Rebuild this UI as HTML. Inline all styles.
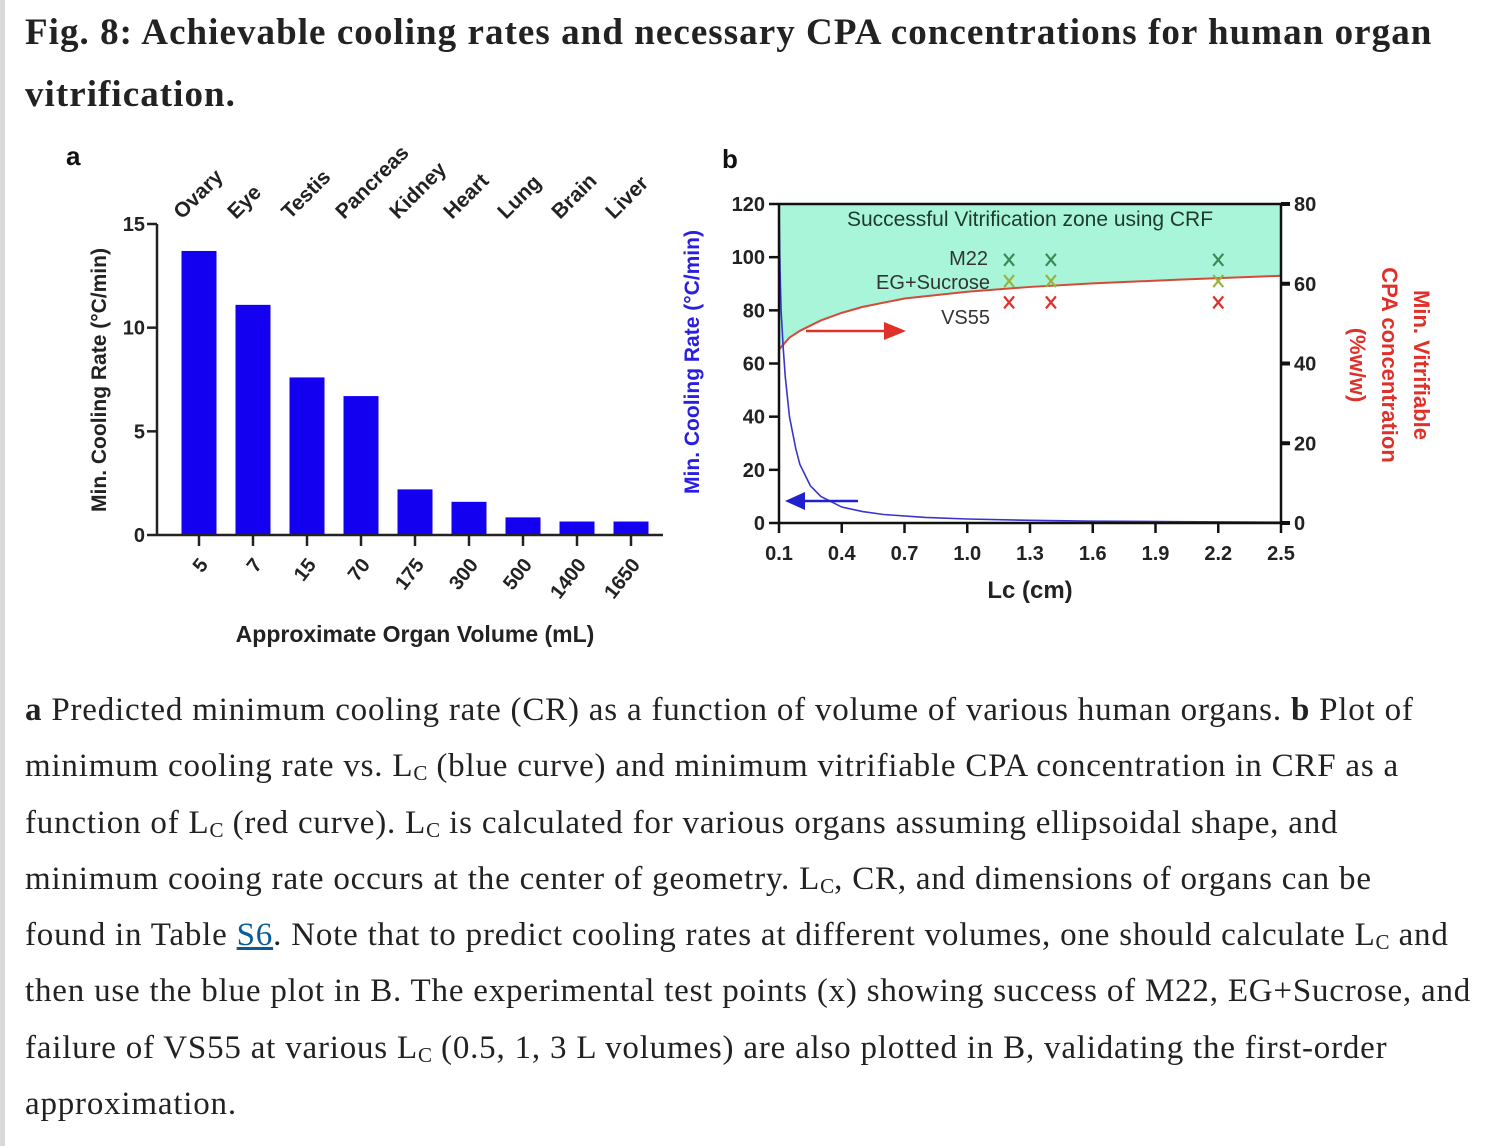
<!DOCTYPE html>
<html><head><meta charset="utf-8">
<style>
html,body{margin:0;padding:0;background:#fff;}
body{width:1494px;height:1146px;position:relative;overflow:hidden;font-family:"Liberation Serif",serif;color:#222;}
#bar{position:absolute;left:0;top:0;width:5px;height:1146px;background:#d9d9d9;}
#title{position:absolute;left:25px;top:2px;font-size:37px;font-weight:bold;line-height:62px;letter-spacing:1.05px;white-space:nowrap;}
#cap{position:absolute;left:25px;top:682px;font-size:33px;line-height:56.3px;white-space:nowrap;letter-spacing:0.8px;}
#cap sub{font-size:21px;vertical-align:-4px;line-height:0;letter-spacing:0;}
#cap a{color:#0b5a99;}
svg{position:absolute;left:0;top:0;}
svg text{font-family:"Liberation Sans",sans-serif;font-weight:bold;}
</style></head><body>
<div id="bar"></div>
<div id="title">Fig. 8: Achievable cooling rates and necessary CPA concentrations for human organ<br>vitrification.</div>
<svg id="chart" width="1494" height="680"></svg>
<div id="cap"><b>a</b> Predicted minimum cooling rate (CR) as a function of volume of various human organs. <b>b</b> Plot of<br>minimum cooling rate vs. L<sub>C</sub> (blue curve) and minimum vitrifiable CPA concentration in CRF as a<br>function of L<sub>C</sub> (red curve). L<sub>C</sub> is calculated for various organs assuming ellipsoidal shape, and<br>minimum cooing rate occurs at the center of geometry. L<sub>C</sub>, CR, and dimensions of organs can be<br>found in Table <a href="#">S6</a>. Note that to predict cooling rates at different volumes, one should calculate L<sub>C</sub> and<br>then use the blue plot in B. The experimental test points (x) showing success of M22, EG+Sucrose, and<br>failure of VS55 at various L<sub>C</sub> (0.5, 1, 3 L volumes) are also plotted in B, validating the first-order<br>approximation.</div>
<script>
const organs=["Ovary","Eye","Testis","Pancreas","Kidney","Heart","Lung","Brain","Liver"];
const volumes=["5","7","15","70","175","300","500","1400","1650"];
const rates=[13.7,11.1,7.6,6.7,2.2,1.6,0.85,0.65,0.65];
const aTicks=[0,5,10,15];
const lcTicks=[0.1,0.4,0.7,1.0,1.3,1.6,1.9,2.2,2.5];
const crTicks=[0,20,40,60,80,100,120];
const cpaTicks=[0,20,40,60,80];
const blueLc=[0.1,0.105,0.11,0.12,0.13,0.15,0.18,0.2,0.25,0.3,0.4,0.5,0.6,0.8,1.0,1.3,1.6,2.0,2.5];
const blueCR=[120,95,80,66,55,40,28,22,14,10,6,4.3,3.2,2.1,1.5,1.0,0.7,0.5,0.3];
const redLc=[0.1,0.15,0.2,0.3,0.4,0.5,0.7,1.0,1.3,1.6,2.0,2.5];
const redCPA=[43.5,46.5,48.2,50.8,52.7,54.2,56.3,58.0,59.2,60.1,61.0,62.0];
const crossLc=[1.2,1.4,2.2];
const m22CR=[99,99,99];
const egCR=[91,91,91];
const vsCR=[83,83,83];
const NS="http://www.w3.org/2000/svg";
const svg=document.getElementById('chart');
function el(t,a,txt){const e=document.createElementNS(NS,t);for(const k in a)e.setAttribute(k,a[k]);if(txt!==undefined)e.textContent=txt;svg.appendChild(e);return e;}
// panel a
const ax0=157,ax1=663,ay0=535,ay1=224;
const ya=v=>ay0-(v/15)*(ay0-ay1);
const bw=(ax1-ax0-20)/organs.length;
const xa=i=>ax0+20+bw*(i+0.5)-5;
let t=el('text',{x:66,y:165,'font-size':26,fill:'#111'},'a');

rates.forEach((v,i)=>{const r=el('rect',{x:xa(i)-17.5,y:ya(v),width:35,height:ay0-ya(v),fill:'#1400f0'});

const tk=el('line',{x1:xa(i),x2:xa(i),y1:ay0,y2:ay0+11,stroke:'#222','stroke-width':2.5});

const vl=el('text',{x:0,y:0,'font-size':20,fill:'#222','text-anchor':'end',transform:`translate(${xa(i)+10},${ay0+30}) rotate(-52)`},volumes[i]);

const ol=el('text',{x:0,y:0,'font-size':21,fill:'#222',transform:`translate(${xa(i)-17},${ay1-4}) rotate(-45)`},organs[i]);

});
let l=el('line',{x1:ax0,x2:ax0,y1:ay1,y2:ay0,stroke:'#222','stroke-width':2.5});
l=el('line',{x1:ax0,x2:ax1,y1:ay0,y2:ay0,stroke:'#222','stroke-width':2.5});
aTicks.forEach(v=>{const k=el('line',{x1:ax0-10,x2:ax0,y1:ya(v),y2:ya(v),stroke:'#222','stroke-width':2.5});
const tl=el('text',{x:ax0-12,y:ya(v)+7,'font-size':20,fill:'#222','text-anchor':'end'},v);});
t=el('text',{x:0,y:0,'font-size':21,fill:'#222','text-anchor':'middle',transform:'translate(106,380) rotate(-90)'},'Min. Cooling Rate (°C/min)');
t=el('text',{x:415,y:642,'font-size':23,fill:'#222','text-anchor':'middle'},'Approximate Organ Volume (mL)');
// panel b
const bx0=779,bx1=1281,by0=523,by1=204;
const xb=v=>bx0+(v-0.1)/2.4*(bx1-bx0);
const yl=v=>by0-v/120*(by0-by1);
const yr=v=>by0-v/80*(by0-by1);
t=el('text',{x:722,y:168,'font-size':26,fill:'#111'},'b');
let zone='M'+xb(redLc[0])+','+by1;
redLc.forEach((v,i)=>zone+=' L'+xb(v)+','+yr(redCPA[i]));zone+=' L'+bx1+','+by1+' Z';
let p=el('path',{d:zone,fill:'#a8f5da'});
t=el('text',{x:1030,y:226,'font-size':21,fill:'#1d3a2a','text-anchor':'middle',style:'font-weight:normal'},'Successful Vitrification zone using CRF');
let d='';redLc.forEach((v,i)=>d+=(i?' L':'M')+xb(v)+','+yr(redCPA[i]));
p=el('path',{d,fill:'none',stroke:'#d44a3a','stroke-width':2});
d='';blueLc.forEach((v,i)=>d+=(i?' L':'M')+xb(v)+','+yl(blueCR[i]));
p=el('path',{d,fill:'none',stroke:'#3b33cc','stroke-width':1.6});
function cross(x,y,c,n){const g=el('path',{d:`M${x-5},${y-6} L${x+5},${y+6} M${x+5},${y-6} L${x-5},${y+6}`,stroke:c,'stroke-width':2.2,fill:'none'});}
crossLc.forEach((v,i)=>{cross(xb(v),yl(m22CR[i]),'#3a8a55','m22-point');cross(xb(v),yl(egCR[i]),'#9ab040','eg-sucrose-point');cross(xb(v),yl(vsCR[i]),'#e0302a','vs55-point');});
[['M22',988,265],['EG+Sucrose',990,289],['VS55',990,324]].forEach(a=>{const q=el('text',{x:a[1],y:a[2],'font-size':20,fill:'#333','text-anchor':'end',style:'font-weight:normal'},a[0]);});
p=el('path',{d:'M806,331 L888,331',stroke:'#e0302a','stroke-width':2.5});
p=el('path',{d:'M884,322 L906,331 L884,340 Z',fill:'#e0302a'});
p=el('path',{d:'M800,501 L858,501',stroke:'#2020d0','stroke-width':2.5});
p=el('path',{d:'M805,492 L785,501 L805,510 Z',fill:'#2020d0'});
[[bx0,by1,bx0,by0,'left-y-axis'],[bx1,by1,bx1,by0,'right-y-axis'],[bx0,by0,bx1,by0,'x-axis-b'],[bx0,by1,bx1,by1,'top-border']].forEach(a=>{const q=el('line',{x1:a[0],y1:a[1],x2:a[2],y2:a[3],stroke:'#111','stroke-width':2.5});});
crTicks.forEach(v=>{const k=el('line',{x1:bx0-10,x2:bx0,y1:yl(v),y2:yl(v),stroke:'#111','stroke-width':2.5});
const q=el('text',{x:bx0-14,y:yl(v)+7,'font-size':20,fill:'#222','text-anchor':'end'},v);});
cpaTicks.forEach(v=>{const k=el('line',{x1:bx1,x2:bx1+9,y1:yr(v),y2:yr(v),stroke:'#111','stroke-width':4});
const q=el('text',{x:bx1+13,y:yr(v)+7,'font-size':20,fill:'#222'},v);});
lcTicks.forEach(v=>{const k=el('line',{x1:xb(v),x2:xb(v),y1:by0,y2:by0+10,stroke:'#111','stroke-width':2.5});
const q=el('text',{x:xb(v),y:by0+37,'font-size':20,fill:'#222','text-anchor':'middle'},v.toFixed(1));});
t=el('text',{x:1030,y:598,'font-size':24,fill:'#222','text-anchor':'middle'},'Lc (cm)');
t=el('text',{x:0,y:0,'font-size':21,fill:'#2a1ee0','text-anchor':'middle',transform:'translate(699,362) rotate(-90)'},'Min. Cooling Rate (°C/min)');
[['Min. Vitrifiable',1414],['CPA concentration',1382],['(%w/w)',1350]].forEach(a=>{const q=el('text',{x:0,y:0,'font-size':22,fill:'#e0302a','text-anchor':'middle',transform:`translate(${a[1]},365) rotate(90)`},a[0]);});
</script>
</body></html>
